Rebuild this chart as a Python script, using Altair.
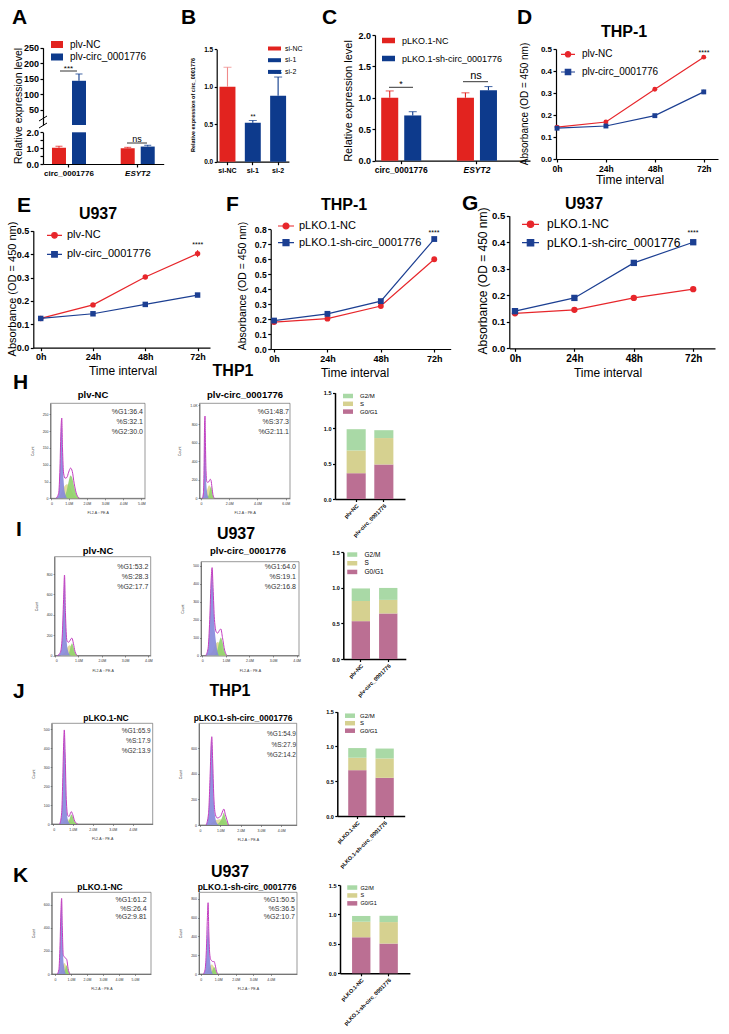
import altair as alt
import pandas as pd

FONT = "Liberation Sans"
W, H = 729, 1034
ONE = pd.DataFrame({"k": [0]})

RED = "#e2231f"; NAVY = "#0d3a8c"; ERR_PINK = "#f08a8a"
LRED = "#e7262b"; LBLUE = "#1c3f92"
C_G1 = "#bb6f93"; C_S = "#d6d190"; C_G2 = "#a9d9a6"
H_G1 = "#8587da"; H_S = "#e2dc99"; H_G2 = "#8fd16c"; H_LINE = "#c23cc0"

# ---------------- data ----------------
A_genes = ["circ_0001776", "ESYT2"]
A_groups = ["plv-NC", "plv-circ_0001776"]
A_nc = [1.02, 1.0]
A_nc_err = [0.10, 0.05]
A_oe = [143.0, 1.10]
A_oe_err = [22.0, 0.08]

B_cats = ["si-NC", "si-1", "si-2"]
B_vals = [1.0, 0.52, 0.88]
B_err = [0.26, 0.03, 0.25]

C_genes = ["circ_0001776", "ESYT2"]
C_groups = ["pLKO.1-NC", "pLKO.1-sh-circ_0001776"]
C_nc = [1.0, 1.0]
C_nc_err = [0.11, 0.08]
C_sh = [0.72, 1.12]
C_sh_err = [0.06, 0.06]

hours = [0, 24, 48, 72]
D_names = ["plv-NC", "plv-circ_0001776"]
D_a = [0.145, 0.168, 0.317, 0.463]; D_ae = [0.004, 0.005, 0.005, 0.006]
D_b = [0.140, 0.150, 0.197, 0.305]; D_be = [0.004, 0.004, 0.005, 0.010]
E_a = [0.125, 0.183, 0.302, 0.402]; E_ae = [0.003, 0.004, 0.008, 0.015]
E_b = [0.125, 0.145, 0.185, 0.225]; E_be = [0.003, 0.003, 0.004, 0.005]
F_names = ["pLKO.1-NC", "pLKO.1-sh-circ_0001776"]
F_a = [0.180, 0.203, 0.287, 0.600]; F_ae = [0.004, 0.004, 0.005, 0.006]
F_b = [0.190, 0.235, 0.320, 0.735]; F_be = [0.004, 0.004, 0.005, 0.008]
G_a = [0.132, 0.145, 0.190, 0.223]; G_ae = [0.003, 0.003, 0.004, 0.004]
G_b = [0.140, 0.190, 0.322, 0.400]; G_be = [0.003, 0.004, 0.005, 0.005]

# flow histograms (x in millions, counts)
H1_x = [0.3, 0.45, 0.52, 0.58, 0.62, 0.66, 0.72, 0.8, 0.9, 1.0, 1.1, 1.2, 1.3, 1.45, 1.6]
H1_tot = [0, 15, 90, 210, 239, 150, 75, 60, 62, 78, 90, 80, 45, 10, 0]
H1_g1 = [0, 12, 80, 200, 230, 140, 55, 15, 2, 0, 0, 0, 0, 0, 0]
H1_s = [0, 2, 8, 14, 20, 26, 32, 38, 42, 40, 30, 18, 8, 2, 0]
H1_g2 = [0, 0, 0, 0, 0, 0, 2, 8, 25, 50, 68, 60, 35, 8, 0]

H2_x = [0.1, 0.18, 0.22, 0.26, 0.29, 0.32, 0.36, 0.42, 0.5, 0.58, 0.66, 0.72, 0.78, 0.85, 0.95]
H2_tot = [0, 60, 300, 800, 886, 600, 300, 180, 170, 185, 205, 190, 120, 40, 0]
H2_g1 = [0, 55, 290, 780, 860, 570, 250, 90, 20, 0, 0, 0, 0, 0, 0]
H2_s = [0, 3, 8, 15, 20, 30, 45, 80, 120, 140, 120, 80, 40, 10, 0]
H2_g2 = [0, 0, 0, 0, 0, 0, 0, 5, 20, 50, 110, 130, 90, 30, 0]

I1_x = [0.1, 0.22, 0.3, 0.36, 0.4, 0.44, 0.5, 0.56, 0.62, 0.68, 0.72, 0.78, 0.85, 0.95]
I1_tot = [0, 30, 180, 550, 790, 420, 150, 130, 140, 165, 170, 120, 40, 0]
I1_g1 = [0, 25, 170, 530, 770, 400, 120, 40, 8, 0, 0, 0, 0, 0]
I1_s = [0, 3, 10, 20, 25, 40, 70, 90, 100, 90, 70, 40, 12, 0]
I1_g2 = [0, 0, 0, 0, 0, 0, 5, 15, 45, 100, 120, 85, 30, 0]

I2_x = [0.15, 0.25, 0.32, 0.38, 0.42, 0.46, 0.52, 0.6, 0.66, 0.72, 0.79, 0.86, 0.95, 1.05]
I2_tot = [0, 40, 200, 420, 490, 380, 200, 130, 125, 138, 148, 100, 30, 0]
I2_g1 = [0, 35, 190, 405, 475, 360, 170, 60, 15, 0, 0, 0, 0, 0]
I2_s = [0, 3, 8, 15, 20, 30, 50, 70, 75, 70, 50, 25, 8, 0]
I2_g2 = [0, 0, 0, 0, 0, 0, 3, 15, 40, 75, 100, 75, 22, 0]

J1_x = [0.35, 0.45, 0.5, 0.55, 0.58, 0.62, 0.68, 0.75, 0.82, 0.88, 0.93, 1.0, 1.1, 1.25]
J1_tot = [0, 60, 220, 430, 495, 380, 130, 45, 40, 55, 65, 50, 15, 0]
J1_g1 = [0, 55, 210, 415, 480, 360, 110, 25, 5, 0, 0, 0, 0, 0]
J1_s = [0, 3, 8, 12, 15, 18, 22, 25, 22, 18, 12, 8, 3, 0]
J1_g2 = [0, 0, 0, 0, 0, 0, 2, 8, 20, 38, 50, 40, 12, 0]

J2_x = [0.3, 0.42, 0.5, 0.55, 0.58, 0.62, 0.68, 0.76, 0.85, 0.95, 1.05, 1.12, 1.17, 1.25, 1.4]
J2_tot = [0, 90, 400, 640, 690, 520, 220, 80, 55, 60, 80, 110, 125, 80, 0]
J2_g1 = [0, 85, 390, 625, 670, 500, 190, 50, 10, 0, 0, 0, 0, 0, 0]
J2_s = [0, 3, 8, 14, 18, 22, 30, 38, 42, 45, 42, 35, 25, 12, 0]
J2_g2 = [0, 0, 0, 0, 0, 0, 0, 2, 8, 20, 45, 75, 95, 55, 0]

K1_x = [0.15, 0.25, 0.32, 0.38, 0.42, 0.46, 0.52, 0.58, 0.64, 0.7, 0.75, 0.82, 0.94]
K1_tot = [0, 40, 250, 560, 657, 420, 170, 150, 140, 135, 120, 50, 0]
K1_g1 = [0, 35, 240, 540, 640, 400, 140, 60, 15, 0, 0, 0, 0]
K1_s = [0, 3, 10, 20, 30, 50, 80, 95, 90, 70, 50, 20, 0]
K1_g2 = [0, 0, 0, 0, 0, 0, 5, 15, 40, 70, 75, 35, 0]

K2_x = [0.15, 0.25, 0.32, 0.38, 0.42, 0.46, 0.52, 0.58, 0.64, 0.7, 0.76, 0.82, 0.9, 0.98]
K2_tot = [0, 50, 250, 600, 760, 450, 200, 150, 140, 130, 135, 100, 30, 0]
K2_g1 = [0, 40, 200, 450, 530, 400, 170, 70, 20, 0, 0, 0, 0, 0]
K2_s = [0, 5, 15, 30, 45, 60, 80, 95, 100, 90, 70, 40, 10, 0]
K2_g2 = [0, 0, 0, 0, 0, 0, 5, 15, 30, 55, 75, 60, 20, 0]

# cell-cycle fractions
phases = ["G2/M", "S", "G0/G1"]
H_samples = ["plv-NC", "plv-circ_0001776"]
H_g1 = [0.364, 0.487]; H_s = [0.321, 0.373]; H_g2 = [0.300, 0.111]
I_g1 = [0.532, 0.640]; I_s = [0.283, 0.191]; I_g2 = [0.177, 0.168]
J_samples = ["pLKO.1-NC", "pLKO.1-sh-circ_0001776"]
J_g1 = [0.659, 0.549]; J_s = [0.179, 0.279]; J_g2 = [0.139, 0.142]
K_g1 = [0.612, 0.505]; K_s = [0.264, 0.365]; K_g2 = [0.098, 0.107]


# ---------------- helpers ----------------
def yax(xpix, **kw):
    d = dict(orient="left", offset=-xpix, grid=False, title=None, domainColor="black", domainWidth=1.2,
             tickColor="black", tickWidth=1.2, tickSize=3, labelColor="black", labelFont=FONT,
             labelFontWeight="bold", labelFontSize=8, labelPadding=1.5)
    d.update(kw)
    return alt.Axis(**d)


def xax(ypix, **kw):
    d = dict(orient="bottom", offset=ypix - H, grid=False, title=None, domainColor="black", domainWidth=1.2,
             tickColor="black", tickWidth=1.2, tickSize=3, labelColor="black", labelFont=FONT,
             labelFontWeight="bold", labelFontSize=8, labelPadding=2, labelAngle=0)
    d.update(kw)
    return alt.Axis(**d)


def text(s, x, y, size, weight="normal", align="center", angle=0, style="normal", color="black"):
    return alt.Chart(ONE).mark_text(text=s, fontSize=size, fontWeight=weight, align=align, angle=angle,
                                    fontStyle=style, baseline="middle", color=color, font=FONT).encode(
        x=alt.value(x), y=alt.value(y))


def seg(x1, y1, x2, y2, color="black", width=1.0):
    return alt.Chart(ONE).mark_rule(color=color, strokeWidth=width).encode(
        x=alt.value(x1), y=alt.value(y1), x2=alt.value(x2), y2=alt.value(y2))


def mk_legend(sym_left, sym_w, sym_h, first_cy, spacing, label_x, fs, path=None, use_type=True, sw=0):
    d = fs
    if path is None:
        hw = sym_w / d; hh = sym_h / d
        path = f"M{-hw:.3f},{-hh:.3f}H{hw:.3f}V{hh:.3f}H{-hw:.3f}Z"
    cx = sym_left + sym_w / 2
    lx = cx - d / 2
    kw = dict(orient="none", legendX=lx, legendY=first_cy - d / 2, title=None,
              symbolSize=d * d, rowPadding=spacing - d, labelOffset=label_x - (lx + d),
              labelFont=FONT, labelFontSize=fs, labelColor="black", padding=0,
              symbolStrokeWidth=sw, labelLimit=300)
    if use_type:
        kw["symbolType"] = path
    return alt.Legend(**kw)


def err_marks(data, filt, color, enc, yscale, yaxis, cap):
    b = alt.Chart(data).transform_filter(filt)
    rule = b.mark_rule(color=color, strokeWidth=1.1).encode(
        y=alt.Y("mean:Q", scale=yscale, axis=yaxis), y2="top:Q", **enc)
    tick = b.mark_tick(color=color, thickness=1.1, size=cap).encode(
        y=alt.Y("top:Q", scale=yscale, axis=yaxis), **enc)
    return [rule, tick]


layers = []

# ---------------- Panel A ----------------
dfA = pd.DataFrame({"gene": A_genes * 2,
                    "group": [A_groups[0]] * 2 + [A_groups[1]] * 2,
                    "mean": A_nc + A_oe, "err": A_nc_err + A_oe_err})
dfA["top"] = dfA["mean"] + dfA["err"]
A_x = alt.X("gene:N", sort=A_genes,
            scale=alt.Scale(domain=A_genes, range=[43, 163.7], paddingInner=0.476, paddingOuter=0.116),
            axis=xax(164, labelFontSize=8,
                     labelFontStyle={"condition": {"test": "datum.value == 'ESYT2'", "value": "italic"},
                                     "value": "normal"}))
A_xo = alt.XOffset("group:N", sort=A_groups,
                   scale=alt.Scale(domain=A_groups, paddingInner=0.3, paddingOuter=0.05))
A_col = alt.Color("group:N", sort=A_groups, scale=alt.Scale(domain=A_groups, range=[RED, NAVY]),
                  legend=mk_legend(51, 12, 7, 44.5, 12.5, 70, 10))
A_enc = dict(x=A_x, xOffset=A_xo)
ys_lo = alt.Scale(domain=[0, 2], range=[164, 132.3], clamp=True, nice=False, zero=False)
ya_lo = yax(43, values=[0, 0.5, 1, 1.5, 2], format=".1f", labelFontSize=9)
ys_hi = alt.Scale(domain=[0, 250], range=[125, 47.7], nice=False, zero=False)
ya_hi = yax(43, values=[50, 100, 150, 200, 250], labelFontSize=9)

lo = [alt.Chart(dfA).mark_bar().encode(y=alt.Y("mean:Q", scale=ys_lo, axis=ya_lo), color=A_col, **A_enc)]
for g, c in zip(A_groups, [RED, NAVY]):
    lo += err_marks(dfA, f"datum.mean < 2 && datum.group == '{g}'", c, A_enc, ys_lo, ya_lo, 7)
hi = [alt.Chart(dfA).transform_filter("datum.mean > 2").mark_bar().encode(
    y=alt.Y("mean:Q", scale=ys_hi, axis=ya_hi), color=A_col, **A_enc)]
hi += err_marks(dfA, "datum.mean > 2", NAVY, A_enc, ys_hi, ya_hi, 7)
panelA = alt.layer(alt.layer(*hi), alt.layer(*lo)).resolve_scale(y="independent")
layers.append(panelA)
layers += [
    seg(39, 121, 47, 116), seg(39, 128, 47, 123),
    text("Relative expression level", 19, 106, 10.5, angle=270),
    seg(60, 71, 77, 71, width=0.8), text("***", 68.5, 69, 8),
    seg(127, 143, 147, 143, width=0.8), text("ns", 137, 139, 9),
]

# ---------------- Panel B ----------------
dfB = pd.DataFrame({"cat": B_cats, "mean": B_vals, "err": B_err})
dfB["top"] = dfB["mean"] + dfB["err"]
B_x = alt.X("cat:N", sort=B_cats,
            scale=alt.Scale(domain=B_cats, range=[216.7, 288.9], paddingInner=0.37, paddingOuter=0.111),
            axis=xax(161.7, labelFontSize=7))
ys_B = alt.Scale(domain=[0, 1.5], range=[161.7, 49.3], nice=False, zero=False)
ya_B = yax(216.7, values=[0, 0.5, 1, 1.5], format=".1f", labelFontSize=6.5, tickSize=2.5)
B_col = alt.Color("cat:N", sort=B_cats, scale=alt.Scale(domain=B_cats, range=[RED, NAVY, NAVY]),
                  legend=mk_legend(268, 13, 4, 48.5, 10.7, 285, 7))
pB = [alt.Chart(dfB).mark_bar().encode(x=B_x, y=alt.Y("mean:Q", scale=ys_B, axis=ya_B), color=B_col)]
pB += err_marks(dfB, "datum.cat == 'si-NC'", ERR_PINK, dict(x=B_x), ys_B, ya_B, 8)
pB += err_marks(dfB, "datum.cat != 'si-NC'", NAVY, dict(x=B_x), ys_B, ya_B, 8)
layers.append(alt.layer(*pB))
layers += [
    text("Relative expression of circ_0001776", 193, 105, 5.5, weight="bold", angle=270),
    text("**", 253, 117, 6.5), text("ns", 278, 72, 7),
]

# ---------------- Panel C ----------------
dfC = pd.DataFrame({"gene": C_genes * 2,
                    "group": [C_groups[0]] * 2 + [C_groups[1]] * 2,
                    "mean": C_nc + C_sh, "err": C_nc_err + C_sh_err})
dfC["top"] = dfC["mean"] + dfC["err"]
C_x = alt.X("gene:N", sort=C_genes,
            scale=alt.Scale(domain=C_genes, range=[375, 530], paddingInner=0.445, paddingOuter=0.246, align=0.14),
            axis=xax(160.7, labelFontSize=8.5,
                     labelFontStyle={"condition": {"test": "datum.value == 'ESYT2'", "value": "italic"},
                                     "value": "normal"}))
C_xo = alt.XOffset("group:N", sort=C_groups,
                   scale=alt.Scale(domain=C_groups, paddingInner=0.26, paddingOuter=0.043))
C_col = alt.Color("group:N", sort=C_groups, scale=alt.Scale(domain=C_groups, range=[RED, NAVY]),
                  legend=mk_legend(382, 13, 5.5, 40.5, 17, 402, 9))
ys_C = alt.Scale(domain=[0, 2], range=[160.7, 35], nice=False, zero=False)
ya_C = yax(375, values=[0, 0.5, 1, 1.5, 2], format=".1f", labelFontSize=9)
C_enc = dict(x=C_x, xOffset=C_xo)
pC = [alt.Chart(dfC).mark_bar().encode(y=alt.Y("mean:Q", scale=ys_C, axis=ya_C), color=C_col, **C_enc)]
for g, c in zip(C_groups, [RED, NAVY]):
    pC += err_marks(dfC, f"datum.group == '{g}'", c, C_enc, ys_C, ya_C, 8)
layers.append(alt.layer(*pC))
layers += [
    text("Relative expression level", 349, 101, 11, angle=270),
    seg(389, 87.3, 413, 87.3, width=0.8), text("*", 401, 84, 9),
    seg(463, 81.7, 488, 81.7, width=0.8), text("ns", 476, 76, 11),
]


# ---------------- line panels ----------------
def line_panel(names, a, ae, b, be, xdom, xr, ydom, yr, yticks, yfs, xfs, msize, leg):
    n = len(hours)
    df = pd.DataFrame({"h": hours * 2, "v": a + b, "e": ae + be, "g": [names[0]] * n + [names[1]] * n})
    df["lo"] = df["v"] - df["e"]
    df["hi"] = df["v"] + df["e"]
    xs = alt.Scale(domain=xdom, range=xr, nice=False, zero=False)
    ys = alt.Scale(domain=ydom, range=yr, nice=False, zero=False)
    xa = xax(yr[0], values=hours, labelExpr="datum.value + 'h'", labelFontSize=xfs)
    ya = yax(xr[0], values=yticks, format=".1f", labelFontSize=yfs)
    X = alt.X("h:Q", scale=xs, axis=xa)
    out = []
    for name, col, shp in zip(names, [LRED, LBLUE], ["circle", "square"]):
        bb = alt.Chart(df).transform_filter(alt.datum.g == name)
        out.append(bb.mark_rule(color=col, strokeWidth=1).encode(
            x=X, y=alt.Y("lo:Q", scale=ys, axis=ya), y2="hi:Q"))
        out.append(bb.mark_line(color=col, strokeWidth=1.2).encode(x=X, y=alt.Y("v:Q", scale=ys, axis=ya)))
        out.append(bb.mark_point(filled=True, opacity=1, color=col, shape=shp, size=msize).encode(
            x=X, y=alt.Y("v:Q", scale=ys, axis=ya)))
    sym_left, half, r, cy, sp, lab_x, fs = leg
    u = fs / 2.0
    L = half / u; rr = r / u
    p_circ = f"M{-L:.3f},0H{L:.3f}M{-rr:.3f},0A{rr:.3f},{rr:.3f},0,1,0,{rr:.3f},0A{rr:.3f},{rr:.3f},0,1,0,{-rr:.3f},0Z"
    p_sq = f"M{-L:.3f},0H{L:.3f}M{-rr:.3f},{-rr:.3f}H{rr:.3f}V{rr:.3f}H{-rr:.3f}Z"
    lg = mk_legend(sym_left, 2 * half, 0, cy, sp, lab_x, fs, use_type=False, sw=1.2)
    sc = alt.Scale(domain=names, range=[LRED, LBLUE])
    out.append(alt.Chart(df).transform_filter("false").mark_point(filled=True, opacity=1).encode(
        fill=alt.Fill("g:N", scale=sc, legend=lg),
        stroke=alt.Stroke("g:N", scale=sc, legend=lg),
        shape=alt.Shape("g:N", scale=alt.Scale(domain=names, range=[p_circ, p_sq]), legend=lg)))
    return alt.layer(*out)


layers.append(line_panel(D_names, D_a, D_ae, D_b, D_be, [-0.5, 79], [556, 718], [0, 0.5], [159, 49],
                         [0, 0.1, 0.2, 0.3, 0.4, 0.5], 8, 8.5, 24, (560, 7, 2.7, 53.3, 15.7, 580, 10)))
layers += [text("THP-1", 624, 31.5, 16, weight="bold"), text("Time interval", 630, 180, 12),
           text("Absorbance (OD = 450 nm)", 525, 104, 10, angle=270), text("****", 704, 53, 7)]

layers.append(line_panel(D_names, E_a, E_ae, E_b, E_be, [-3.4, 77.7], [33.3, 210], [0, 0.5], [347.7, 230.7],
                         [0, 0.1, 0.2, 0.3, 0.4, 0.5], 9, 9, 30, (46, 7.5, 2.8, 234.3, 18, 65, 11)))
layers += [text("U937", 98, 214, 16, weight="bold"), text("Time interval", 123, 371, 12),
           text("Absorbance (OD = 450 nm)", 13, 289, 11, angle=270), text("****", 197.7, 245, 7)]

layers.append(line_panel(F_names, F_a, F_ae, F_b, F_be, [-1.5, 79.4], [270.7, 450.7], [0, 0.8], [349, 229.3],
                         [0, 0.1, 0.2, 0.3, 0.4, 0.5, 0.6, 0.7, 0.8], 8.5, 9, 34,
                         (277, 8, 3, 225, 15.7, 297, 11)))
layers += [text("THP-1", 344, 205, 16, weight="bold"), text("Time interval", 355, 373, 12),
           text("Absorbance (OD = 450 nm)", 243, 286, 10.5, angle=270), text("****", 434, 233, 7)]

layers.append(line_panel(F_names, G_a, G_ae, G_b, G_be, [-2.3, 80.8], [509.3, 715], [0, 0.5], [348.3, 215.7],
                         [0, 0.1, 0.2, 0.3, 0.4, 0.5], 9.5, 10, 40, (521, 8.5, 3.2, 223.3, 17.4, 545, 12)))
layers += [text("U937", 584, 204, 16, weight="bold"), text("Time interval", 608, 373, 12),
           text("Absorbance (OD = 450 nm)", 483, 281, 12, angle=270), text("****", 693, 233, 7)]


# ---------------- flow histograms ----------------
def hist_panel(xg, tot, g1, s, g2, xdom, xr, ydom, yr, xticks, yticks):
    df = pd.DataFrame({"x": xg, "tot": tot, "g1": g1, "s": s, "g2": g2})
    xs = alt.Scale(domain=xdom, range=xr, nice=False, zero=False)
    ys = alt.Scale(domain=ydom, range=yr, nice=False, zero=False)
    small = dict(labelFontSize=3.5, labelFontWeight="normal", tickSize=1.5, domainWidth=0.6, tickWidth=0.5,
                 domainColor="#333", tickColor="#333", labelColor="#333",
                 titleFontSize=3.5, titleFontWeight="normal", titleFont=FONT, titleColor="#333")
    xa = xax(yr[0], values=xticks,
             labelExpr="datum.value == 0 ? '0' : format(datum.value, '.1f') + 'M'",
             labelPadding=1.5, title="FL2-A :: PE-A", titlePadding=6, **small)
    ya = yax(xr[0], values=yticks,
             labelExpr="datum.value >= 1000 ? format(datum.value / 1000, '.1f') + 'K' : datum.value",
             labelPadding=1, title="Count", titlePadding=8, **small)
    X = alt.X("x:Q", scale=xs, axis=xa)
    b = alt.Chart(df)
    out = [
        alt.Chart(ONE).mark_rect(fillOpacity=0, stroke="#555", strokeWidth=0.6).encode(
            x=alt.XDatum(xdom[0], scale=xs, axis=xa), x2=alt.X2Datum(xdom[1]),
            y=alt.YDatum(ydom[0], scale=ys, axis=ya), y2=alt.Y2Datum(ydom[1])),
        b.mark_area(color=H_S, opacity=0.95, interpolate="monotone").encode(x=X, y=alt.Y("s:Q", scale=ys, axis=ya)),
        b.mark_area(color=H_G2, opacity=0.9, interpolate="monotone").encode(x=X, y=alt.Y("g2:Q", scale=ys, axis=ya)),
        b.mark_area(color=H_G1, opacity=0.9, interpolate="monotone").encode(x=X, y=alt.Y("g1:Q", scale=ys, axis=ya)),
        b.mark_line(color=H_LINE, strokeWidth=1.0, interpolate="monotone").encode(x=X, y=alt.Y("tot:Q", scale=ys, axis=ya)),
    ]
    return alt.layer(*out)


def stack_panel(samples, g1, s, g2, xr, pi, po, yr, leg):
    rows = []
    for i, smp in enumerate(samples):
        rows.append({"sample": smp, "phase": "G0/G1", "frac": g1[i], "ord": 0})
        rows.append({"sample": smp, "phase": "S", "frac": s[i], "ord": 1})
        rows.append({"sample": smp, "phase": "G2/M", "frac": g2[i], "ord": 2})
    df = pd.DataFrame(rows)
    X = alt.X("sample:N", sort=samples,
              scale=alt.Scale(domain=samples, range=xr, paddingInner=pi, paddingOuter=po),
              axis=xax(yr[0], labelAngle=315, labelFontSize=5.5, tickSize=2.5, domainWidth=1.5, tickWidth=1.2,
                       labelPadding=1.5))
    Y = alt.Y("frac:Q", stack="zero", scale=alt.Scale(domain=[0, 1.5], range=yr, nice=False, zero=False),
              axis=yax(xr[0], values=[0, 0.5, 1, 1.5], format=".1f", labelFontSize=5.5, tickSize=2.5,
                       domainWidth=1.5, tickWidth=1.2))
    sym_left, cy, sp, lab_x, fs = leg
    C = alt.Color("phase:N", scale=alt.Scale(domain=phases, range=[C_G2, C_S, C_G1]),
                  legend=mk_legend(sym_left, 10, 4.5, cy, sp, lab_x, fs))
    return alt.Chart(df).mark_bar().encode(x=X, y=Y, color=C, order=alt.Order("ord:Q"))


rows_spec = [
    dict(h1=(H1_x, H1_tot, H1_g1, H1_s, H1_g2, [0, 5.2], [50.5, 145], [0, 283], [498.3, 403.3], [0, 1, 2, 3, 4, 5], [0, 50, 100, 150, 200, 250]),
         h2=(H2_x, H2_tot, H2_g1, H2_s, H2_g2, [-0.1, 6.3], [199.5, 290], [0, 1023], [498.3, 403.3], [0, 2, 4, 6], [0, 200, 400, 600, 800, 1000]),
         st=(H_samples, H_g1, H_s, H_g2, [335, 405], 0.31, 0.42, [499, 392.7], (343, 396, 7.8, 360, 6)),
         t1=("plv-NC", 93, 395, 9.5), t2=("plv-circ_0001776", 245, 395, 9.5),
         p1=(143, [412.3, 422.3, 432.3], ["%G1:36.4", "%S:32.1", "%G2:30.0"]),
         p2=(289, [412.3, 422.3, 432.3], ["%G1:48.7", "%S:37.3", "%G2:11.1"]),
         row=("THP1", 233, 371), letter=("H", 13, 383), pfs=7),
    dict(h1=(I1_x, I1_tot, I1_g1, I1_s, I1_g2, [-0.03, 4.1], [54.5, 150.7], [0, 970], [655.5, 556.7], [0, 1, 2, 3, 4], [0, 200, 400, 600, 800]),
         h2=(I2_x, I2_tot, I2_g1, I2_s, I2_g2, [-0.05, 4.1], [201, 299], [0, 523], [655.5, 561.7], [0, 1, 2, 3, 4], [0, 100, 200, 300, 400, 500]),
         st=(H_samples, I_g1, I_s, I_g2, [343.3, 405.8], 0.33, 0.306, [659, 552.3], (347, 554.3, 8.2, 364, 6.5)),
         t1=("plv-NC", 98, 551, 9.5), t2=("plv-circ_0001776", 248, 551, 9.5),
         p1=(148.3, [567.3, 577.3, 587.3], ["%G1:53.2", "%S:28.3", "%G2:17.7"]),
         p2=(296, [567.3, 577.3, 587.3], ["%G1:64.0", "%S:19.1", "%G2:16.8"]),
         row=("U937", 236, 534), letter=("I", 16, 530), pfs=7),
    dict(h1=(J1_x, J1_tot, J1_g1, J1_s, J1_g2, [-0.05, 5.0], [51.7, 152.7], [0, 530], [824, 723.3], [0, 1, 2, 3, 4], [0, 100, 200, 300, 400, 500]),
         h2=(J2_x, J2_tot, J2_g1, J2_s, J2_g2, [-0.05, 4.76], [199, 296.7], [0, 795], [825, 723.3], [0, 1, 2, 3, 4], [0, 200, 400, 600]),
         st=(J_samples, J_g1, J_s, J_g2, [337.3, 404.7], 0.33, 0.4, [816, 711.7], (345, 715.7, 7.5, 360, 6)),
         t1=("pLKO.1-NC", 106, 718, 8.5), t2=("pLKO.1-sh-circ_0001776", 243, 718, 8.5),
         p1=(150.7, [730.7, 741, 751.3], ["%G1:65.9", "%S:17.9", "%G2:13.9"]),
         p2=(296, [734.3, 744.7, 754.7], ["%G1:54.9", "%S:27.9", "%G2:14.2"]),
         row=("THP1", 230, 691), letter=("J", 13, 692), pfs=6.5),
    dict(h1=(K1_x, K1_tot, K1_g1, K1_s, K1_g2, [-0.2, 6.0], [51.7, 151], [0, 710], [974, 892.3], [0, 1, 2, 3, 4, 5], [0, 200, 400, 600]),
         h2=(K2_x, K2_tot, K2_g1, K2_s, K2_g2, [-0.1, 5.5], [199, 297], [0, 871], [974, 892.3], [0, 1, 2, 3, 4], [0, 200, 400, 600, 800]),
         st=(J_samples, K_g1, K_s, K_g2, [340, 409.9], 0.33, 0.44, [973.3, 885], (347, 887.3, 6.4, 360, 5.5)),
         t1=("pLKO.1-NC", 100, 887, 8.5), t2=("pLKO.1-sh-circ_0001776", 247, 887, 8.5),
         p1=(146.7, [900, 908.5, 917], ["%G1:61.2", "%S:26.4", "%G2:9.81"]),
         p2=(295, [900, 908.5, 917], ["%G1:50.5", "%S:36.5", "%G2:10.7"]),
         row=("U937", 230, 872), letter=("K", 13, 876), pfs=7),
]

for r in rows_spec:
    layers.append(hist_panel(*r["h1"]))
    layers.append(hist_panel(*r["h2"]))
    layers.append(stack_panel(*r["st"]))
    for key in ("t1", "t2"):
        s, x, y, fs = r[key]
        layers.append(text(s, x, y, fs, weight="bold"))
    for key in ("p1", "p2"):
        xr_, ys_, strs = r[key]
        for yy, ss in zip(ys_, strs):
            layers.append(text(ss, xr_, yy, r["pfs"], align="right", color="#333"))
    s, x, y = r["row"]
    layers.append(text(s, x, y, 16, weight="bold"))
    s, x, y = r["letter"]
    layers.append(text(s, x, y, 21, weight="bold", align="left"))

for s, x, y in [("A", 12, 18), ("B", 181, 18), ("C", 322, 18), ("D", 517, 18),
                ("E", 17, 206), ("F", 226, 205), ("G", 462, 204)]:
    layers.append(text(s, x, y, 21, weight="bold", align="left"))

chart = alt.layer(*layers).resolve_scale(
    x="independent", y="independent", color="independent", shape="independent",
    xOffset="independent", fill="independent", stroke="independent"
).properties(
    width=W, height=H, autosize=alt.AutoSizeParams(type="none"), padding=0, background="white"
).configure_view(stroke=None)

chart.save("out.html", embed_options={"renderer": "svg", "actions": False})
